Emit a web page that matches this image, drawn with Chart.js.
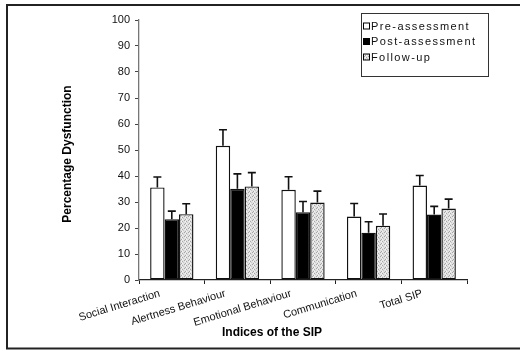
<!DOCTYPE html>
<html>
<head>
<meta charset="utf-8">
<script src="https://cdn.jsdelivr.net/npm/chart.js@4"></script>
<style>
  body { margin: 0; background: #fff; }
  #wrap { width: 520px; height: 351px; }
</style>
</head>
<body>
<div id="wrap"><canvas id="sipChart" width="520" height="351"></canvas></div>
<script>
// SIP data
const categories = ['Social Interaction', 'Alertness Behaviour', 'Emotional Behaviour', 'Communication', 'Total SIP'];
const seriesNames = ['Pre-assessment', 'Post-assessment', 'Follow-up'];
const preValues = [35.6, 51.6, 34.7, 24.4, 36.3];
const postValues = [23.4, 35.1, 26.1, 18.2, 25.2];
const followValues = [25.3, 36.0, 29.8, 20.9, 27.5];
const preErrors = [4.0, 6.2, 5.0, 5.0, 3.9];
const postErrors = [3.1, 5.7, 4.1, 4.2, 3.1];
const followErrors = [4.0, 5.3, 4.4, 4.5, 3.6];
const yTicks = [0, 10, 20, 30, 40, 50, 60, 70, 80, 90, 100];

const FONT = '"Liberation Sans", Arial, sans-serif';

// speckled grey fill for follow-up bars
function makeStipple() {
  const c = document.createElement('canvas');
  c.width = 4; c.height = 4;
  const g = c.getContext('2d');
  g.fillStyle = '#e2e2e2';
  g.fillRect(0, 0, 4, 4);
  g.fillStyle = '#a6a6a6';
  g.fillRect(0, 0, 1, 1);
  g.fillRect(2, 1, 1, 1);
  g.fillRect(1, 3, 1, 1);
  g.fillStyle = '#c8c8c8';
  g.fillRect(3, 2, 1, 1);
  g.fillStyle = '#f4f4f4';
  g.fillRect(2, 3, 1, 1);
  g.fillRect(1, 1, 1, 1);
  return g.createPattern(c, 'repeat');
}
const stipple = makeStipple();

const errorBars = {
  id: 'errorBars',
  afterDatasetsDraw(chart) {
    const ctx = chart.ctx;
    const yScale = chart.scales.y;
    ctx.save();
    ctx.strokeStyle = '#111';
    ctx.lineWidth = 1.6;
    chart.data.datasets.forEach((ds, i) => {
      const meta = chart.getDatasetMeta(i);
      meta.data.forEach((bar, j) => {
        const top = yScale.getPixelForValue(ds.data[j] + ds.errors[j]);
        ctx.beginPath();
        ctx.moveTo(bar.x, bar.y);
        ctx.lineTo(bar.x, top);
        ctx.moveTo(bar.x - 4, top);
        ctx.lineTo(bar.x + 4, top);
        ctx.stroke();
      });
    });
    ctx.restore();
  }
};

const frameAndText = {
  id: 'frameAndText',
  beforeDraw(chart) {
    const ctx = chart.ctx;
    ctx.save();
    ctx.fillStyle = '#fff';
    ctx.fillRect(0, 0, chart.width, chart.height);
    ctx.strokeStyle = '#222';
    ctx.lineWidth = 2;
    ctx.beginPath();
    ctx.moveTo(530, 5);
    ctx.lineTo(7, 5);
    ctx.lineTo(7, 348.5);
    ctx.lineTo(530, 348.5);
    ctx.stroke();
    ctx.restore();
  },
  afterDraw(chart) {
    const ctx = chart.ctx;
    ctx.save();
    // axis titles
    ctx.fillStyle = '#000';
    ctx.font = 'bold 12px ' + FONT;
    ctx.textAlign = 'center';
    ctx.textBaseline = 'middle';
    ctx.fillText('Indices of the SIP', 272, 333);
    ctx.translate(68, 154);
    ctx.rotate(-Math.PI / 2);
    ctx.fillText('Percentage Dysfunction', 0, 0);
    ctx.restore();

    // legend box
    ctx.save();
    ctx.strokeStyle = '#333';
    ctx.lineWidth = 1;
    ctx.strokeRect(361.5, 13.5, 127, 63);
    ctx.font = '11px ' + FONT;
    ctx.letterSpacing = '1.4px';
    ctx.textBaseline = 'middle';
    ctx.textAlign = 'left';
    chart.data.datasets.forEach((ds, i) => {
      const cy = 26 + i * 15.5;
      ctx.fillStyle = ds.backgroundColor;
      ctx.fillRect(363.5, cy - 3, 6, 6);
      ctx.strokeStyle = '#000';
      ctx.strokeRect(363.5, cy - 3, 6, 6);
      ctx.fillStyle = '#111';
      ctx.fillText(ds.label, 371, cy + 0.5);
    });
    ctx.restore();
  }
};

new Chart(document.getElementById('sipChart').getContext('2d'), {
  type: 'bar',
  data: {
    labels: categories,
    datasets: [
      { label: seriesNames[0], data: preValues, errors: preErrors, backgroundColor: '#ffffff' },
      { label: seriesNames[1], data: postValues, errors: postErrors, backgroundColor: '#000000' },
      { label: seriesNames[2], data: followValues, errors: followErrors, backgroundColor: stipple }
    ]
  },
  options: {
    responsive: false,
    animation: false,
    layout: { padding: { left: 0, right: 53, top: 20, bottom: 0 } },
    datasets: {
      bar: {
        borderColor: '#111',
        borderWidth: 1.4,
        borderSkipped: false,
        categoryPercentage: 0.66,
        barPercentage: 1.0
      }
    },
    plugins: {
      legend: { display: false },
      tooltip: { enabled: false }
    },
    scales: {
      x: {
        afterFit: s => { s.height = 71; },
        border: { color: '#222', width: 1.3 },
        grid: { display: true, drawOnChartArea: false, drawTicks: true, tickLength: 4, color: '#222', offset: true },
        ticks: {
          color: '#111',
          font: { family: FONT, size: 11 },
          minRotation: 17,
          maxRotation: 17,
          labelOffset: -12,
          padding: 3,
          autoSkip: false
        }
      },
      y: {
        min: 0,
        max: 100,
        afterFit: s => { s.width = 139; },
        afterBuildTicks: s => { s.ticks = yTicks.map(v => ({ value: v })); },
        border: { color: '#777', width: 1.3 },
        grid: { display: true, drawOnChartArea: false, drawTicks: true, tickLength: 4, color: '#444' },
        ticks: {
          color: '#111',
          font: { family: FONT, size: 11 },
          padding: 5
        }
      }
    }
  },
  plugins: [frameAndText, errorBars]
});
</script>
</body>
</html>
